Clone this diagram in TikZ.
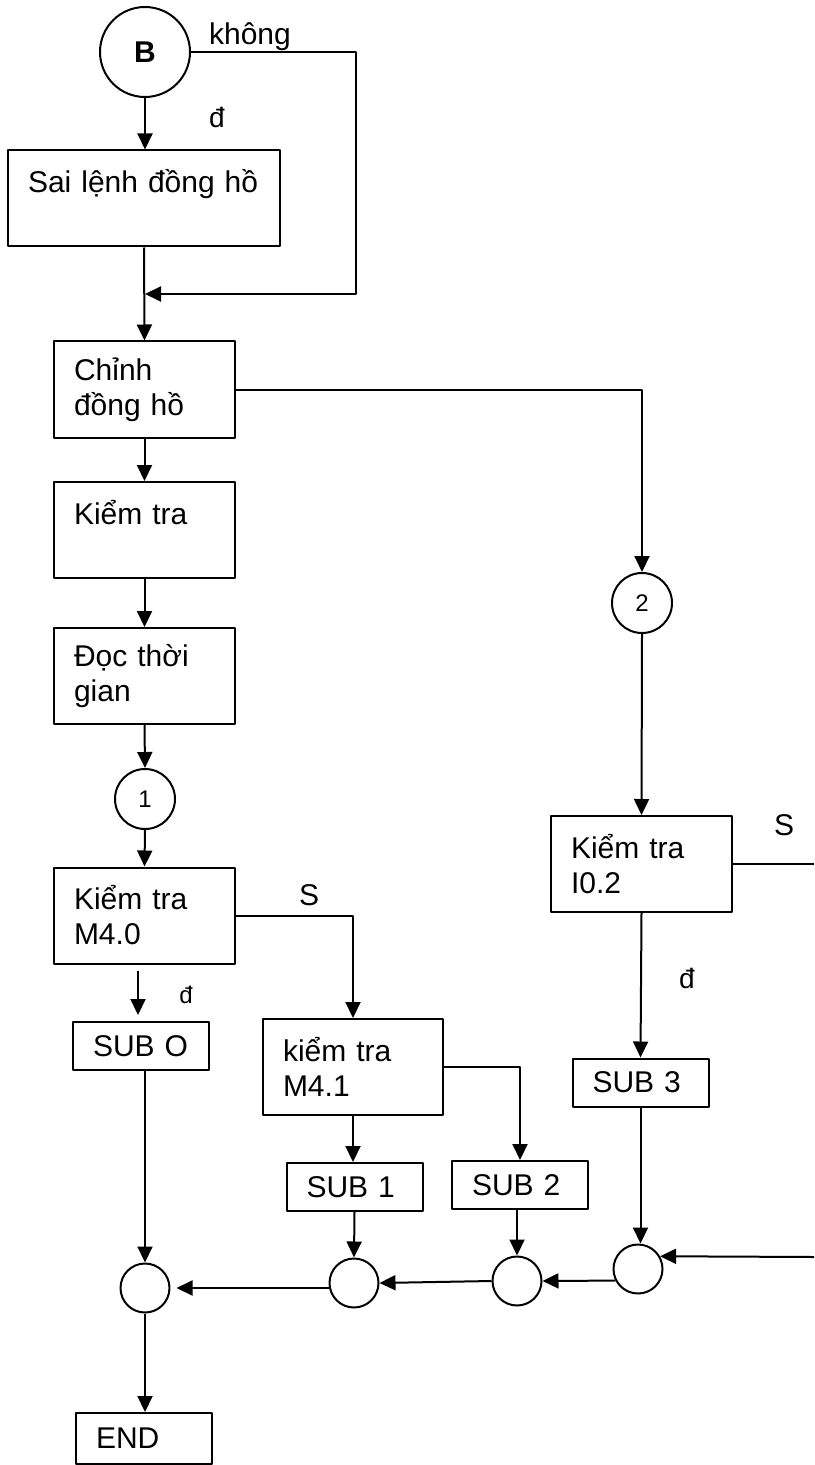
\documentclass[tikz,border=0pt]{standalone}
\usepackage{fontspec}
\setmainfont{Liberation Sans}
\usetikzlibrary{arrows.meta}

\begin{document}
\begin{tikzpicture}[x=0.5pt, y=-0.5pt, font={\fontsize{15}{17.5}\selectfont}, line join=round, line width=1pt, >={Triangle[length=8pt, width=7.5pt]},
		khoi/.style={draw, align=left, inner xsep=10pt, inner ysep=0pt, text width=70.5pt, minimum height=48pt},
		khoinho/.style={khoi, text width=48pt, minimum height=24pt},
		tron/.style={draw, circle, inner sep=0pt, minimum size=#1},
		nhan/.style={inner sep=0pt}]
		
		% Khung ảnh
		\useasboundingbox (0,0) rectangle (814,1465);
		
		% Cột bên trái
		\node[tron=45pt, font={\fontsize{15}{17}\selectfont\bfseries}] (B) at (145,52) {B};
		\node[khoi, text width=116pt] (SL) at (144,198.5) {Sai lệnh đồng hồ\\\mbox{}};
		\node[khoi] (CDH) at (144.5,389.5) {Chỉnh\\đồng hồ};
		\node[khoi] (KT) at (144.5,530) {Kiểm tra\\\mbox{}};
		\node[khoi] (DTG) at (144.5,676) {Đọc thời\\gian};
		\node[tron=30pt, font={\fontsize{12}{14}\selectfont}] (N1) at (145,799) {1};
		\node[khoi] (KT40) at (144.5,915.5) {Kiểm tra\\M4.0};
		\node[khoinho] (S0) at (141,1046) {SUB O};
		\node[khoinho, minimum height=25.5pt] (END) at (144,1438.5) {END};
		
		% Nhánh M4.1
		\node[khoi, text width=70pt] (KT41) at (353,1067) {kiểm tra\\M4.1};
		\node[khoinho] (S1) at (354.5,1187) {SUB 1};
		\node[khoinho] (S2) at (520,1185) {SUB 2};
		
		% Cột bên phải
		\node[tron=30pt, font={\fontsize{12}{14}\selectfont}] (N2) at (642,603) {2};
		\node[khoi] (KT02) at (641.5,864) {Kiểm tra\\I0.2};
		\node[khoinho] (S3) at (640.5,1082.5) {SUB 3};
		
		% Các điểm gộp
		\node[tron=24.5pt] (G0) at (145,1288) {};
		\node[tron=24.5pt] (G1) at (354,1283) {};
		\node[tron=24.5pt] (G2) at (517,1281) {};
		\node[tron=24.5pt] (G3) at (638,1269) {};
		
		% Chữ trên các nhánh
		\node[nhan] (lKhong) at (250,37) {không};
		\node[nhan, font={\fontsize{14}{16}\selectfont}] (lD1) at (217,117) {đ};
		\node[nhan] (lS1) at (309,895) {S};
		\node[nhan, font={\fontsize{12}{14}\selectfont}] (lD2) at (186,995) {đ};
		\node[nhan] (lS2) at (784,825) {S};
		\node[nhan, font={\fontsize{14}{16}\selectfont}] (lD3) at (687,978) {đ};
		
		% Mũi tên cột trái
		\coordinate (hopB) at (145,294);
		\draw[->] (B.south) -- (B.south |- SL.north);
		\draw[->] (B.east) -- ++(165,0) |- (hopB);
		\draw[->] (SL.south) -- (CDH.north);
		\draw[->] (CDH.south) -- (KT.north);
		\draw[->] (KT.south) -- (DTG.north);
		\draw[->] (DTG.south) -- (N1.north);
		\draw[->] (N1.south) -- (KT40.north);
		\draw[->, shorten <=3pt, shorten >=3pt] ([xshift=-1.5pt]S0.north |- KT40.south) -- ([xshift=-1.5pt]S0.north);
		\draw[->] (G0.north |- S0.south) -- (G0.north);
		\draw[->] (G0.south) -- (G0.south |- END.north);
		
		% Mũi tên nhánh M4.1
		\draw[->] (KT40.east) -| (KT41.north);
		\draw[->] (KT41.south) -- (KT41.south |- S1.north);
		\draw[->] (KT41.east) -| (S2.north);
		\draw[->] (S1.south) -- (G1.north);
		\draw[->] (G2.north |- S2.south) -- (G2.north);
		
		% Mũi tên cột phải
		\coordinate (phaiS) at (814,864);
		\coordinate (phaiV) at (814,1257);
		\draw[->] (CDH.east) -| (N2.north);
		\draw[->] (N2.south) -- (KT02.north);
		\draw[->] (KT02.south) -- (S3.north);
		\draw (KT02.east) -- (phaiS);
		\draw[->] (S3.south) -- (S3.south |- G3.north);
		\draw[->] (phaiV) -- (G3.30);
		
		% Nối các điểm gộp
		\draw[->] (G3.207) -- (G2.east);
		\draw[->] (G2.west) -- (G1.east);
		\draw[->, shorten >=3pt] (G1.west |- G0.east) -- (G0.east);
		
\end{tikzpicture}
\end{document}
